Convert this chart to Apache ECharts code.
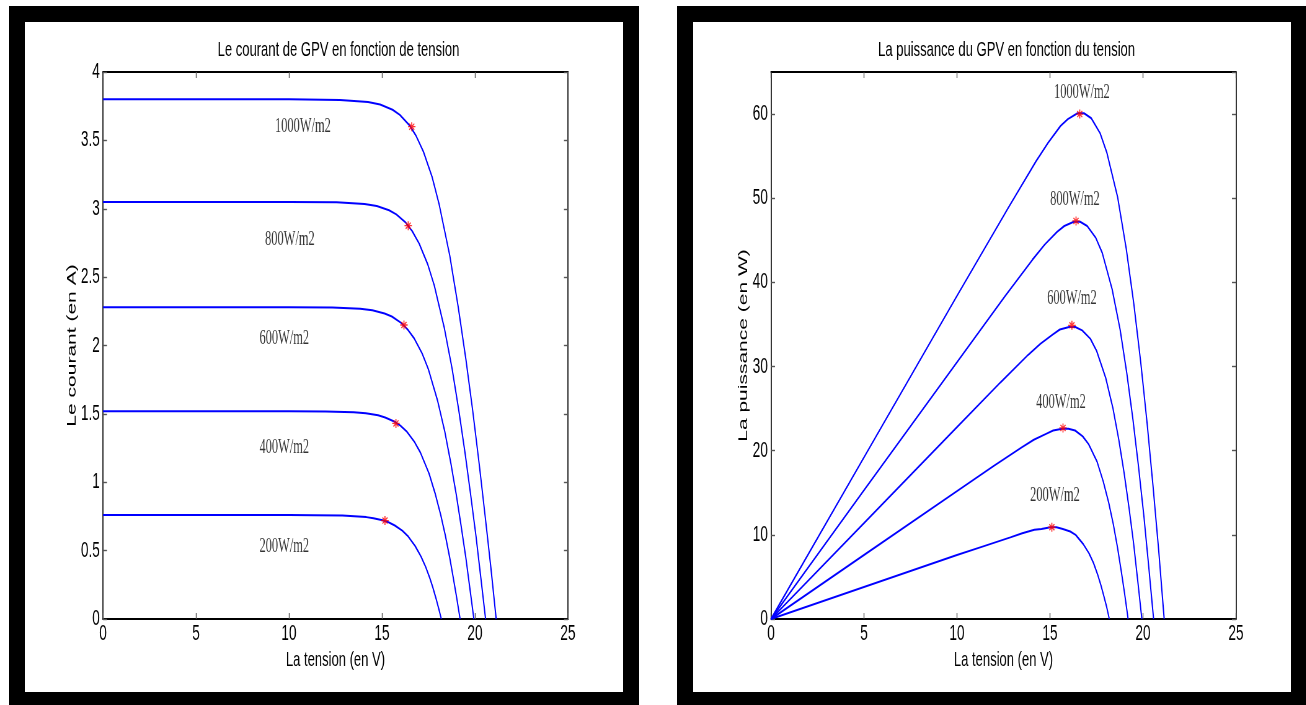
<!DOCTYPE html>
<html>
<head>
<meta charset="utf-8">
<script src="https://cdn.jsdelivr.net/npm/echarts@6/dist/echarts.min.js"></script>
<style>
  html, body { margin: 0; padding: 0; background: #fff; }
  #page { position: relative; width: 1306px; height: 705px; overflow: hidden; background: #fff; }
  .frame { position: absolute; top: 6px; width: 630px; height: 702px; border: 16px solid #000; box-sizing: border-box; }
  /* the original figure is squeezed horizontally, so the chart is drawn wide and scaled down */
  #chart { position: absolute; left: 0; top: 0; width: 2106px; height: 705px; transform: scaleX(0.62); transform-origin: 0 0; }
</style>
</head>
<body>
<div id="page">
  <div class="frame" style="left:9px"></div>
  <div class="frame" style="left:677px"></div>
  <div id="chart"></div>
</div>
<script>
var irradiance = ['1000W/m2', '800W/m2', '600W/m2', '400W/m2', '200W/m2'];

// tension (V), courant (A), puissance (W)
var v1000 = [0, 5, 10, 12.74, 14.25, 14.90, 15.57, 15.96, 16.48, 16.83, 17.22, 17.70, 18.06, 18.64, 19.10, 19.51, 19.88, 20.22, 20.54, 20.85, 21.14];
var i1000 = [3.80, 3.80, 3.80, 3.796, 3.781, 3.762, 3.724, 3.686, 3.61, 3.534, 3.42, 3.23, 3.04, 2.66, 2.28, 1.90, 1.52, 1.14, 0.76, 0.38, 0];
var p1000 = [0, 19.2, 38.4, 48.8, 54.4, 56.6, 58.6, 59.4, 60.1, 60.1, 59.5, 57.7, 55.4, 50.1, 44.0, 37.4, 30.5, 23.3, 15.8, 8.0, 0];

var v800 = [0, 5, 10, 12.56, 14.06, 14.72, 15.38, 15.77, 16.28, 16.62, 17.00, 17.46, 17.81, 18.34, 18.77, 19.13, 19.46, 19.76, 20.05, 20.31, 20.57];
var i800 = [3.05, 3.05, 3.05, 3.047, 3.035, 3.020, 2.989, 2.959, 2.898, 2.837, 2.745, 2.593, 2.44, 2.135, 1.83, 1.525, 1.22, 0.915, 0.61, 0.305, 0];
var p800 = [0, 15.3, 30.5, 38.3, 42.7, 44.5, 46.0, 46.7, 47.2, 47.2, 46.7, 45.3, 43.5, 39.2, 34.4, 29.2, 23.7, 18.1, 12.2, 6.2, 0];

var v600 = [0, 5, 10, 12.33, 13.83, 14.48, 15.14, 15.53, 16.03, 16.36, 16.73, 17.17, 17.50, 17.99, 18.38, 18.70, 18.99, 19.25, 19.50, 19.72, 19.94];
var i600 = [2.28, 2.28, 2.28, 2.278, 2.269, 2.257, 2.234, 2.212, 2.166, 2.120, 2.052, 1.938, 1.824, 1.596, 1.368, 1.14, 0.912, 0.684, 0.456, 0.228, 0];
var p600 = [0, 11.4, 22.8, 28.1, 31.4, 32.7, 33.8, 34.4, 34.7, 34.7, 34.3, 33.3, 31.9, 28.7, 25.1, 21.3, 17.3, 13.2, 8.9, 4.5, 0];

var v400 = [0, 5, 10, 11.98, 13.48, 14.13, 14.79, 15.17, 15.66, 15.99, 16.35, 16.76, 17.07, 17.53, 17.87, 18.16, 18.41, 18.63, 18.83, 19.02, 19.20];
var i400 = [1.52, 1.52, 1.52, 1.518, 1.512, 1.505, 1.490, 1.474, 1.444, 1.414, 1.368, 1.292, 1.216, 1.064, 0.912, 0.76, 0.608, 0.456, 0.304, 0.152, 0];
var p400 = [0, 7.6, 15.2, 18.2, 20.4, 21.3, 22.0, 22.4, 22.6, 22.6, 22.4, 21.7, 20.8, 18.7, 16.3, 13.8, 11.2, 8.5, 5.7, 2.9, 0];

var v200 = [0, 5, 10, 11.37, 12.87, 13.51, 14.16, 14.54, 15.03, 15.35, 15.69, 16.09, 16.38, 16.79, 17.10, 17.35, 17.56, 17.74, 17.90, 18.05, 18.19];
var i200 = [0.76, 0.76, 0.76, 0.759, 0.756, 0.752, 0.745, 0.737, 0.722, 0.707, 0.684, 0.646, 0.608, 0.532, 0.456, 0.38, 0.304, 0.228, 0.152, 0.076, 0];
var p200 = [0, 3.8, 7.6, 8.6, 9.7, 10.2, 10.6, 10.7, 10.9, 10.9, 10.7, 10.4, 10.0, 8.9, 7.8, 6.6, 5.3, 4.0, 2.7, 1.4, 0];

// points de puissance maximale (red stars)
var mppCourant = [[16.6, 3.6], [16.41, 2.876], [16.18, 2.15], [15.75, 1.43], [15.16, 0.72]];
var mppPuissance = [[16.6, 60.0], [16.4, 47.3], [16.18, 34.9], [15.7, 22.7], [15.1, 10.9]];

// where the irradiance texts sit
var labelCourant = [[10.75, 3.6], [10.05, 2.77], [9.75, 2.05], [9.75, 1.25], [9.75, 0.53]];
var labelPuissance = [[16.72, 62.5], [16.34, 49.8], [16.18, 38.1], [15.59, 25.7], [15.27, 14.7]];

// axes
var xRange = { min: 0, max: 25, interval: 5 };
var courantRange = { min: 0, max: 4, interval: 0.5 };
var puissanceRange = { min: 0, max: 65, interval: 10 };

var volts = [v1000, v800, v600, v400, v200];
var amps = [i1000, i800, i600, i400, i200];
var watts = [p1000, p800, p600, p400, p200];

var SANS = 'Liberation Sans, Arial, sans-serif';
var SERIF = 'Liberation Serif, Times New Roman, serif';
var FS = 21;
var TICK_FS = 22;

function pairs(xs, ys) {
  return xs.map(function (x, k) { return [x, ys[k]]; });
}

function xAxisOf(grid, pos, range, name) {
  var main = pos === 'bottom';
  return {
    type: 'value', gridIndex: grid, position: pos,
    min: range.min, max: range.max, interval: range.interval,
    name: main ? name : '', nameLocation: 'middle', nameGap: 31,
    nameTextStyle: { color: '#000', fontFamily: SANS, fontSize: FS },
    axisLine: { show: true, onZero: false, lineStyle: { color: '#000', width: 2 } },
    axisTick: { show: true, inside: true, length: 6, lineStyle: { color: '#555', width: 1.4 } },
    axisLabel: { show: main, margin: 4, color: '#000', fontFamily: SANS, fontSize: TICK_FS },
    splitLine: { show: false }
  };
}

function yAxisOf(grid, pos, range, name, gap) {
  var main = pos === 'left';
  return {
    type: 'value', gridIndex: grid, position: pos,
    min: range.min, max: range.max, interval: range.interval,
    name: main ? name : '', nameLocation: 'middle', nameGap: gap, nameRotate: 90,
    nameTextStyle: { color: '#000', fontFamily: SANS, fontSize: FS },
    axisLine: { show: true, onZero: false, lineStyle: { color: '#000', width: 1.6 } },
    axisTick: { show: true, inside: true, length: 6.5, lineStyle: { color: '#555', width: 1.4 } },
    axisLabel: { show: main, margin: 5, showMaxLabel: range.max % range.interval === 0, color: '#000', fontFamily: SANS, fontSize: TICK_FS },
    splitLine: { show: false }
  };
}

var series = [];
for (var k = 0; k < irradiance.length; k++) {
  series.push({
    type: 'line', xAxisIndex: 0, yAxisIndex: 0, showSymbol: false, silent: true,
    lineStyle: { color: '#0000ff', width: 2 }, data: pairs(volts[k], amps[k])
  });
  series.push({
    type: 'line', xAxisIndex: 2, yAxisIndex: 2, showSymbol: false, silent: true,
    lineStyle: { color: '#0000ff', width: 2 }, data: pairs(volts[k], watts[k])
  });
}

var star = 'path://M5,0L5,10M0,5L10,5M1.6,1.6L8.4,8.4M1.6,8.4L8.4,1.6';
function stars(xi, yi, pts) {
  return {
    type: 'scatter', xAxisIndex: xi, yAxisIndex: yi, symbol: star, symbolSize: [12, 9], z: 5,
    itemStyle: { color: 'rgba(0,0,0,0)', borderColor: '#ff0000', borderWidth: 1.5 },
    data: pts
  };
}
function texts(xi, yi, pts) {
  return {
    type: 'scatter', xAxisIndex: xi, yAxisIndex: yi, symbolSize: 1, z: 6,
    itemStyle: { color: 'rgba(0,0,0,0)' },
    label: { show: true, position: 'inside', formatter: '{b}', color: '#000', fontFamily: SERIF, fontSize: 20 },
    data: pts.map(function (p, k) { return { name: irradiance[k], value: p }; })
  };
}
series.push(stars(0, 0, mppCourant), stars(2, 2, mppPuissance));
series.push(texts(0, 0, labelCourant), texts(2, 2, labelPuissance));

var chart = echarts.init(document.getElementById('chart'));
chart.setOption({
  animation: false,
  backgroundColor: 'transparent',
  title: [
    { text: 'Le courant de GPV en fonction de tension', left: 541, top: 35, textAlign: 'center',
      textStyle: { color: '#000', fontFamily: SANS, fontSize: FS, fontWeight: 'normal' } },
    { text: 'La puissance du GPV en fonction du tension', left: 1618.5, top: 35, textAlign: 'center',
      textStyle: { color: '#000', fontFamily: SANS, fontSize: FS, fontWeight: 'normal' } }
  ],
  grid: [
    { left: 166.1, top: 72, width: 750, height: 547 },
    { left: 1243.5, top: 72, width: 750, height: 547 }
  ],
  xAxis: [
    xAxisOf(0, 'bottom', xRange, 'La tension (en V)'),
    xAxisOf(0, 'top', xRange, ''),
    xAxisOf(1, 'bottom', xRange, 'La tension (en V)'),
    xAxisOf(1, 'top', xRange, '')
  ],
  yAxis: [
    yAxisOf(0, 'left', courantRange, 'Le courant (en A)', 38),
    yAxisOf(0, 'right', courantRange, '', 38),
    yAxisOf(1, 'left', puissanceRange, 'La puissance (en W)', 32),
    yAxisOf(1, 'right', puissanceRange, '', 32)
  ],
  series: series
});
</script>
</body>
</html>
